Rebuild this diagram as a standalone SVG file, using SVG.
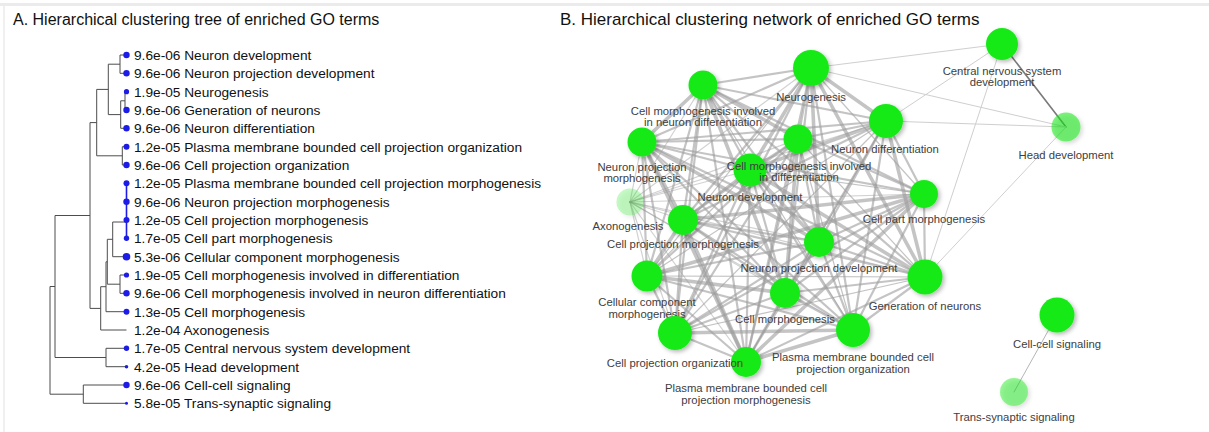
<svg xmlns="http://www.w3.org/2000/svg" width="1209" height="432" viewBox="0 0 1209 432">
<defs>
<filter id="sh" x="-50%" y="-50%" width="200%" height="200%"><feDropShadow dx="2" dy="2" stdDeviation="2" flood-color="#000" flood-opacity="0.28"/></filter>
</defs>
<style>
.t{font-family:"Liberation Sans",Arial,sans-serif;font-size:13.7px;fill:#111}
.ttl{font-family:"Liberation Sans",Arial,sans-serif;fill:#111}
.br{fill:none;stroke:#4d4d4d;stroke-width:1}
.dot{fill:#1c1ce6}
.lb{font-family:"Liberation Sans",Arial,sans-serif;font-size:11.3px;fill:#404040;text-anchor:middle}
.nd{fill:#16ea16;filter:url(#sh)}
.e{stroke:#9c9c9c;stroke-opacity:.6;stroke-linecap:round;fill:none}
.eT{stroke-width:3.6}
.eM{stroke-width:2.2}
.eL{stroke-width:1.2}
.eA{stroke-width:1.2;stroke-opacity:.45}
.eX{stroke-width:1;stroke:#cfcfcf;stroke-opacity:1}
.eD{stroke-width:1.6;stroke:#7a7a7a;stroke-opacity:1}
</style>
<rect width="1209" height="432" fill="#fff"/>
<rect x="0" y="3" width="1209" height="3" fill="#ebebeb"/>
<rect x="3" y="6" width="2" height="426" fill="#f0f0f0"/>

<text class="ttl" x="13" y="25" font-size="16">A. Hierarchical clustering tree of enriched GO terms</text>
<text class="ttl" x="560" y="25" font-size="17">B. Hierarchical clustering network of enriched GO terms</text>

<g id="tree">
<g id="tree-branches">
<path class="br" d="M126.5 55 H120 V73.3 H126.5"/>
<path class="br" d="M126.5 91.7 H125 V110 H126.5"/>
<path class="br" d="M125 100.8 H120.7 V128.3 H126.5"/>
<path class="br" d="M120 64.2 H108.3 V114.6 H120.7"/>
<path class="br" d="M126.5 146.7 H122.3 V165 H126.5"/>
<path class="br" d="M108.3 89.4 H96.7 V155.8 H122.3"/>
<path d="M126.5 183.3 V238.3" fill="none" stroke="#1c1ce6" stroke-width="1.6"/>
<path class="br" d="M126.5 222 H112.7 V256.7 H126.5"/>
<path class="br" d="M126.5 275 H120 V293.3 H126.5"/>
<path class="br" d="M112.7 239.3 H107.3 V284.2 H120"/>
<path class="br" d="M107.3 261.8 H106 V311.7 H126.5"/>
<path class="br" d="M106 286.7 H100.7 V330 H126.5"/>
<path class="br" d="M96.7 122.6 H90 V308.4 H100.7"/>
<path class="br" d="M126.5 348.3 H106 V366.7 H126.5"/>
<path class="br" d="M90 215.5 H55 V357.5 H106"/>
<path class="br" d="M126.5 385 H83.3 V403.3 H126.5"/>
<path class="br" d="M55 286.5 H50 V394.2 H83.3"/>
</g>
<g id="tree-dots">
<circle class="dot" cx="126.5" cy="55" r="3.2"/>
<circle class="dot" cx="126.5" cy="73.3" r="3.2"/>
<circle class="dot" cx="126.5" cy="91.7" r="2.6"/>
<circle class="dot" cx="126.5" cy="110" r="3.2"/>
<circle class="dot" cx="126.5" cy="128.3" r="3.2"/>
<circle class="dot" cx="126.5" cy="146.7" r="3"/>
<circle class="dot" cx="126.5" cy="165" r="3.2"/>
<circle class="dot" cx="126.5" cy="183.3" r="3"/>
<circle class="dot" cx="126.5" cy="201.7" r="3.2"/>
<circle class="dot" cx="126.5" cy="220" r="3"/>
<circle class="dot" cx="126.5" cy="238.3" r="2.7"/>
<circle class="dot" cx="126.5" cy="256.7" r="3.8"/>
<circle class="dot" cx="126.5" cy="275" r="2.6"/>
<circle class="dot" cx="126.5" cy="293.3" r="3.2"/>
<circle class="dot" cx="126.5" cy="311.7" r="2.95"/>
<circle class="dot" cx="126.5" cy="348.3" r="2.7"/>
<circle class="dot" cx="126.5" cy="366.7" r="1.8"/>
<circle class="dot" cx="126.5" cy="385" r="3.2"/>
<circle class="dot" cx="126.5" cy="403.3" r="1.5"/>
</g>
<g id="tree-labels">
<text class="t" x="134" y="59.8">9.6e-06 Neuron development</text>
<text class="t" x="134" y="78.1">9.6e-06 Neuron projection development</text>
<text class="t" x="134" y="96.5">1.9e-05 Neurogenesis</text>
<text class="t" x="134" y="114.8">9.6e-06 Generation of neurons</text>
<text class="t" x="134" y="133.1">9.6e-06 Neuron differentiation</text>
<text class="t" x="134" y="151.5">1.2e-05 Plasma membrane bounded cell projection organization</text>
<text class="t" x="134" y="169.8">9.6e-06 Cell projection organization</text>
<text class="t" x="134" y="188.1">1.2e-05 Plasma membrane bounded cell projection morphogenesis</text>
<text class="t" x="134" y="206.5">9.6e-06 Neuron projection morphogenesis</text>
<text class="t" x="134" y="224.8">1.2e-05 Cell projection morphogenesis</text>
<text class="t" x="134" y="243.1">1.7e-05 Cell part morphogenesis</text>
<text class="t" x="134" y="261.5">5.3e-06 Cellular component morphogenesis</text>
<text class="t" x="134" y="279.8">1.9e-05 Cell morphogenesis involved in differentiation</text>
<text class="t" x="134" y="298.1">9.6e-06 Cell morphogenesis involved in neuron differentiation</text>
<text class="t" x="134" y="316.5">1.3e-05 Cell morphogenesis</text>
<text class="t" x="134" y="334.8">1.2e-04 Axonogenesis</text>
<text class="t" x="134" y="353.1">1.7e-05 Central nervous system development</text>
<text class="t" x="134" y="371.5">4.2e-05 Head development</text>
<text class="t" x="134" y="389.8">9.6e-06 Cell-cell signaling</text>
<text class="t" x="134" y="408.1">5.8e-05 Trans-synaptic signaling</text>
</g>
</g>

<g id="edges">
<line class="e eM" x1="811" y1="68" x2="703" y2="85"/>
<line class="e eM" x1="811" y1="68" x2="642" y2="142"/>
<line class="e eM" x1="811" y1="68" x2="798" y2="139"/>
<line class="e eT" x1="811" y1="68" x2="750" y2="170"/>
<line class="e eA" x1="811" y1="68" x2="630" y2="202"/>
<line class="e eM" x1="811" y1="68" x2="683" y2="220"/>
<line class="e eT" x1="811" y1="68" x2="886" y2="121"/>
<line class="e eL" x1="811" y1="68" x2="924" y2="194"/>
<line class="e eT" x1="811" y1="68" x2="819" y2="242"/>
<line class="e eL" x1="811" y1="68" x2="647" y2="276"/>
<line class="e eM" x1="811" y1="68" x2="785" y2="293"/>
<line class="e eT" x1="811" y1="68" x2="925" y2="277"/>
<line class="e eM" x1="811" y1="68" x2="675" y2="333"/>
<line class="e eM" x1="811" y1="68" x2="853" y2="330"/>
<line class="e eM" x1="811" y1="68" x2="746" y2="362"/>
<line class="e eT" x1="703" y1="85" x2="642" y2="142"/>
<line class="e eT" x1="703" y1="85" x2="798" y2="139"/>
<line class="e eM" x1="703" y1="85" x2="750" y2="170"/>
<line class="e eA" x1="703" y1="85" x2="630" y2="202"/>
<line class="e eM" x1="703" y1="85" x2="683" y2="220"/>
<line class="e eM" x1="703" y1="85" x2="886" y2="121"/>
<line class="e eM" x1="703" y1="85" x2="924" y2="194"/>
<line class="e eM" x1="703" y1="85" x2="819" y2="242"/>
<line class="e eM" x1="703" y1="85" x2="647" y2="276"/>
<line class="e eT" x1="703" y1="85" x2="785" y2="293"/>
<line class="e eM" x1="703" y1="85" x2="925" y2="277"/>
<line class="e eM" x1="703" y1="85" x2="675" y2="333"/>
<line class="e eL" x1="703" y1="85" x2="853" y2="330"/>
<line class="e eM" x1="703" y1="85" x2="746" y2="362"/>
<line class="e eM" x1="642" y1="142" x2="798" y2="139"/>
<line class="e eM" x1="642" y1="142" x2="750" y2="170"/>
<line class="e eA" x1="642" y1="142" x2="630" y2="202"/>
<line class="e eT" x1="642" y1="142" x2="683" y2="220"/>
<line class="e eM" x1="642" y1="142" x2="886" y2="121"/>
<line class="e eM" x1="642" y1="142" x2="924" y2="194"/>
<line class="e eT" x1="642" y1="142" x2="819" y2="242"/>
<line class="e eM" x1="642" y1="142" x2="647" y2="276"/>
<line class="e eM" x1="642" y1="142" x2="785" y2="293"/>
<line class="e eM" x1="642" y1="142" x2="925" y2="277"/>
<line class="e eM" x1="642" y1="142" x2="675" y2="333"/>
<line class="e eM" x1="642" y1="142" x2="853" y2="330"/>
<line class="e eT" x1="642" y1="142" x2="746" y2="362"/>
<line class="e eM" x1="798" y1="139" x2="750" y2="170"/>
<line class="e eA" x1="798" y1="139" x2="630" y2="202"/>
<line class="e eM" x1="798" y1="139" x2="683" y2="220"/>
<line class="e eM" x1="798" y1="139" x2="886" y2="121"/>
<line class="e eM" x1="798" y1="139" x2="924" y2="194"/>
<line class="e eM" x1="798" y1="139" x2="819" y2="242"/>
<line class="e eM" x1="798" y1="139" x2="647" y2="276"/>
<line class="e eT" x1="798" y1="139" x2="785" y2="293"/>
<line class="e eL" x1="798" y1="139" x2="925" y2="277"/>
<line class="e eM" x1="798" y1="139" x2="675" y2="333"/>
<line class="e eL" x1="798" y1="139" x2="853" y2="330"/>
<line class="e eM" x1="798" y1="139" x2="746" y2="362"/>
<line class="e eA" x1="750" y1="170" x2="630" y2="202"/>
<line class="e eM" x1="750" y1="170" x2="683" y2="220"/>
<line class="e eT" x1="750" y1="170" x2="886" y2="121"/>
<line class="e eL" x1="750" y1="170" x2="924" y2="194"/>
<line class="e eT" x1="750" y1="170" x2="819" y2="242"/>
<line class="e eL" x1="750" y1="170" x2="647" y2="276"/>
<line class="e eM" x1="750" y1="170" x2="785" y2="293"/>
<line class="e eT" x1="750" y1="170" x2="925" y2="277"/>
<line class="e eM" x1="750" y1="170" x2="675" y2="333"/>
<line class="e eM" x1="750" y1="170" x2="853" y2="330"/>
<line class="e eM" x1="750" y1="170" x2="746" y2="362"/>
<line class="e eA" x1="630" y1="202" x2="683" y2="220"/>
<line class="e eA" x1="630" y1="202" x2="886" y2="121"/>
<line class="e eA" x1="630" y1="202" x2="924" y2="194"/>
<line class="e eA" x1="630" y1="202" x2="819" y2="242"/>
<line class="e eA" x1="630" y1="202" x2="647" y2="276"/>
<line class="e eA" x1="630" y1="202" x2="785" y2="293"/>
<line class="e eA" x1="630" y1="202" x2="925" y2="277"/>
<line class="e eA" x1="630" y1="202" x2="675" y2="333"/>
<line class="e eA" x1="630" y1="202" x2="853" y2="330"/>
<line class="e eA" x1="630" y1="202" x2="746" y2="362"/>
<line class="e eM" x1="683" y1="220" x2="886" y2="121"/>
<line class="e eT" x1="683" y1="220" x2="924" y2="194"/>
<line class="e eM" x1="683" y1="220" x2="819" y2="242"/>
<line class="e eT" x1="683" y1="220" x2="647" y2="276"/>
<line class="e eM" x1="683" y1="220" x2="785" y2="293"/>
<line class="e eM" x1="683" y1="220" x2="925" y2="277"/>
<line class="e eM" x1="683" y1="220" x2="675" y2="333"/>
<line class="e eM" x1="683" y1="220" x2="853" y2="330"/>
<line class="e eT" x1="683" y1="220" x2="746" y2="362"/>
<line class="e eM" x1="886" y1="121" x2="924" y2="194"/>
<line class="e eM" x1="886" y1="121" x2="819" y2="242"/>
<line class="e eL" x1="886" y1="121" x2="647" y2="276"/>
<line class="e eM" x1="886" y1="121" x2="785" y2="293"/>
<line class="e eT" x1="886" y1="121" x2="925" y2="277"/>
<line class="e eL" x1="886" y1="121" x2="675" y2="333"/>
<line class="e eM" x1="886" y1="121" x2="853" y2="330"/>
<line class="e eL" x1="886" y1="121" x2="746" y2="362"/>
<line class="e eM" x1="924" y1="194" x2="819" y2="242"/>
<line class="e eT" x1="924" y1="194" x2="647" y2="276"/>
<line class="e eM" x1="924" y1="194" x2="785" y2="293"/>
<line class="e eM" x1="924" y1="194" x2="925" y2="277"/>
<line class="e eM" x1="924" y1="194" x2="675" y2="333"/>
<line class="e eM" x1="924" y1="194" x2="853" y2="330"/>
<line class="e eT" x1="924" y1="194" x2="746" y2="362"/>
<line class="e eM" x1="819" y1="242" x2="647" y2="276"/>
<line class="e eM" x1="819" y1="242" x2="785" y2="293"/>
<line class="e eM" x1="819" y1="242" x2="925" y2="277"/>
<line class="e eM" x1="819" y1="242" x2="675" y2="333"/>
<line class="e eM" x1="819" y1="242" x2="853" y2="330"/>
<line class="e eM" x1="819" y1="242" x2="746" y2="362"/>
<line class="e eT" x1="647" y1="276" x2="785" y2="293"/>
<line class="e eL" x1="647" y1="276" x2="925" y2="277"/>
<line class="e eM" x1="647" y1="276" x2="675" y2="333"/>
<line class="e eM" x1="647" y1="276" x2="853" y2="330"/>
<line class="e eM" x1="647" y1="276" x2="746" y2="362"/>
<line class="e eM" x1="785" y1="293" x2="925" y2="277"/>
<line class="e eM" x1="785" y1="293" x2="675" y2="333"/>
<line class="e eM" x1="785" y1="293" x2="853" y2="330"/>
<line class="e eM" x1="785" y1="293" x2="746" y2="362"/>
<line class="e eL" x1="925" y1="277" x2="675" y2="333"/>
<line class="e eM" x1="925" y1="277" x2="853" y2="330"/>
<line class="e eM" x1="925" y1="277" x2="746" y2="362"/>
<line class="e eT" x1="675" y1="333" x2="853" y2="330"/>
<line class="e eM" x1="675" y1="333" x2="746" y2="362"/>
<line class="e eT" x1="853" y1="330" x2="746" y2="362"/>
<line class="e eX" x1="1002" y1="44" x2="811" y2="68"/>
<line class="e eX" x1="1002" y1="44" x2="886" y2="121"/>
<line class="e eX" x1="1002" y1="44" x2="925" y2="277"/>
<line class="e eD" x1="1002" y1="44" x2="1066" y2="127"/>
<line class="e eX" x1="1066" y1="127" x2="886" y2="121"/>
<line class="e eX" x1="1066" y1="127" x2="811" y2="68"/>
<line class="e eX" x1="1066" y1="127" x2="925" y2="277"/>
<line class="e eX" x1="1057" y1="315" x2="1014" y2="392" style="stroke:#b5b5b5"/>
</g>

<g id="n5"><circle class="nd" cx="750" cy="170" r="16.5"/><text class="lb" x="750" y="201">Neuron development</text></g>
<g id="n16"><circle class="nd" cx="746" cy="362" r="15"/><text class="lb" x="746" y="392">Plasma membrane bounded cell</text><text class="lb" x="746" y="404">projection morphogenesis</text></g>
<g id="n1"><circle class="nd" cx="811" cy="68" r="18"/><text class="lb" x="811" y="101">Neurogenesis</text></g>
<g id="n2"><circle class="nd" cx="703" cy="85" r="14.5"/><text class="lb" x="703" y="115">Cell morphogenesis involved</text><text class="lb" x="703" y="126">in neuron differentiation</text></g>
<g id="n3"><circle class="nd" cx="642" cy="142" r="14.5"/><text class="lb" x="642" y="171">Neuron projection</text><text class="lb" x="642" y="182">morphogenesis</text></g>
<g id="n4"><circle class="nd" cx="798" cy="139" r="14.5"/><text class="lb" x="799" y="170">Cell morphogenesis involved</text><text class="lb" x="799" y="181">in differentiation</text></g>
<g id="n6"><circle class="nd" cx="630" cy="202" r="13.5" fill-opacity="0.25"/><text class="lb" x="628" y="230">Axonogenesis</text></g>
<g id="n7"><circle class="nd" cx="683" cy="220" r="15"/><text class="lb" x="683" y="248">Cell projection morphogenesis</text></g>
<g id="n8"><circle class="nd" cx="886" cy="121" r="17"/><text class="lb" x="885" y="153">Neuron differentiation</text></g>
<g id="n9"><circle class="nd" cx="924" cy="194" r="14"/><text class="lb" x="924" y="223">Cell part morphogenesis</text></g>
<g id="n10"><circle class="nd" cx="819" cy="242" r="15"/><text class="lb" x="819" y="272">Neuron projection development</text></g>
<g id="n11"><circle class="nd" cx="647" cy="276" r="15.5"/><text class="lb" x="647" y="305.5">Cellular component</text><text class="lb" x="647" y="317.5">morphogenesis</text></g>
<g id="n12"><circle class="nd" cx="785" cy="293" r="15"/><text class="lb" x="785" y="323">Cell morphogenesis</text></g>
<g id="n13"><circle class="nd" cx="925" cy="277" r="17.5"/><text class="lb" x="925" y="310">Generation of neurons</text></g>
<g id="n14"><circle class="nd" cx="675" cy="333" r="17"/><text class="lb" x="675" y="367">Cell projection organization</text></g>
<g id="n15"><circle class="nd" cx="853" cy="330" r="17"/><text class="lb" x="853" y="361">Plasma membrane bounded cell</text><text class="lb" x="853" y="373">projection organization</text></g>
<g id="n17"><circle class="nd" cx="1002" cy="44" r="16"/><text class="lb" x="1002" y="74.5">Central nervous system</text><text class="lb" x="1002" y="85.5">development</text></g>
<g id="n18"><circle class="nd" cx="1066" cy="127" r="14.5" fill-opacity="0.55"/><text class="lb" x="1066" y="159">Head development</text></g>
<g id="n19"><circle class="nd" cx="1057" cy="315" r="17.5"/><text class="lb" x="1057" y="348">Cell-cell signaling</text></g>
<g id="n20"><circle class="nd" cx="1014" cy="392" r="14" fill-opacity="0.45"/><text class="lb" x="1014" y="421">Trans-synaptic signaling</text></g>
</svg>
